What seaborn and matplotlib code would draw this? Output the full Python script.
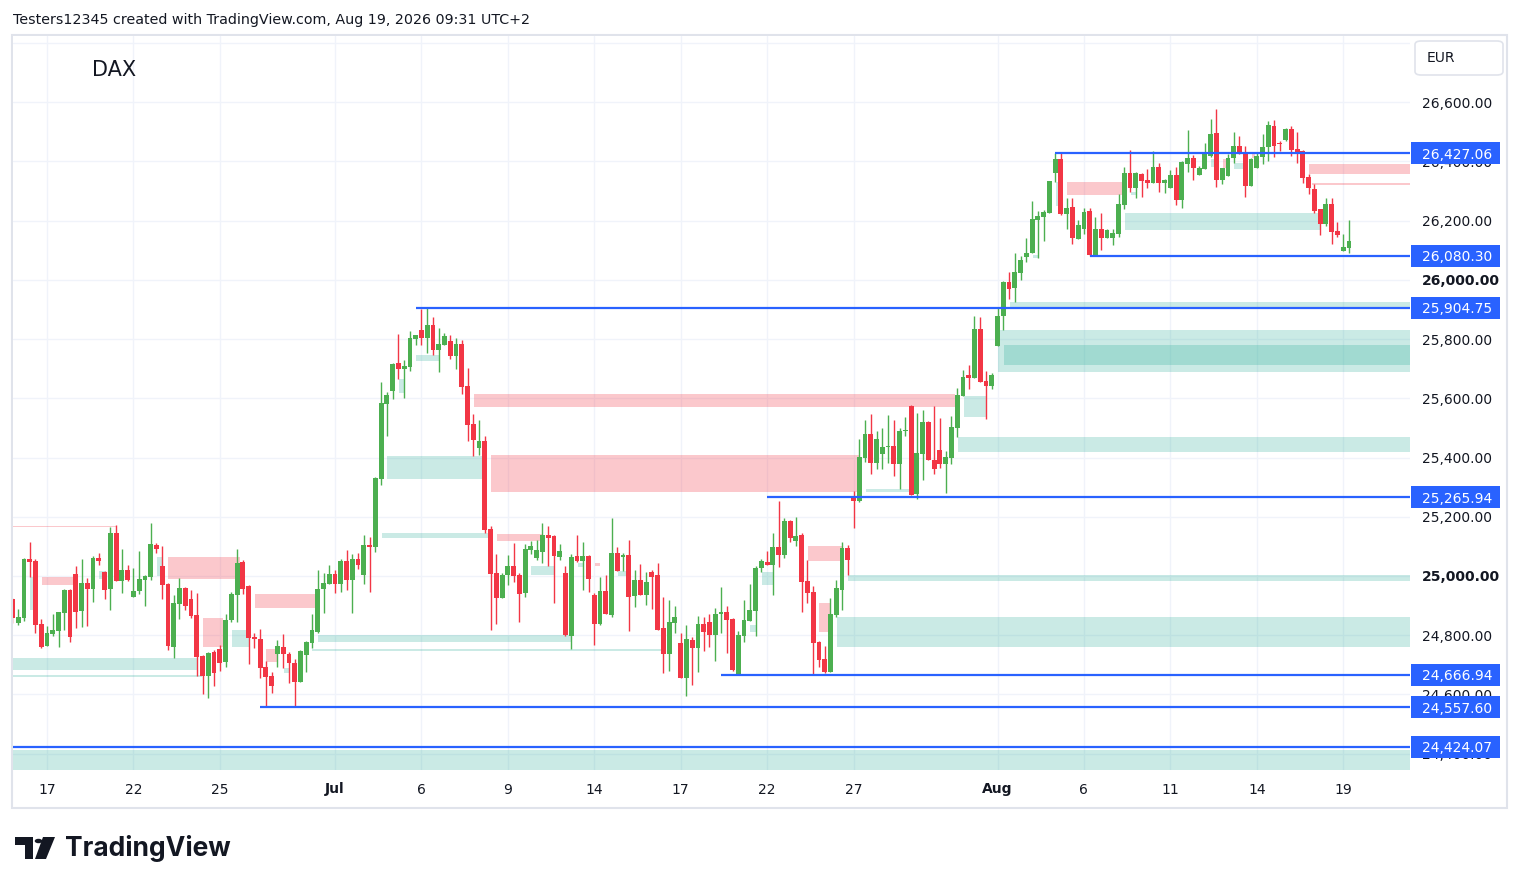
import matplotlib
matplotlib.use('Agg')
import matplotlib.pyplot as plt
import matplotlib.transforms as mtransforms
from matplotlib.patches import Rectangle, FancyBboxPatch, Polygon, Circle
import numpy as np
import pandas as pd
import seaborn as sns

# ---------------- data (2h candles, index = bar number, bar 0 = Jun 17 open) ----------------
first_bar = -6
opens = [24922, 24842, 24859, 25057, 25051, 24838, 24765, 24804, 24815, 24876, 24953, 25007, 24883, 24976, 24956,
         25061, 25014, 24956, 25145, 24984, 25020, 24930, 24949, 24988, 24998, 25105, 25034, 24973, 24761, 24907,
         24960, 24922, 24868, 24731, 24664, 24743, 24754, 24711, 24851, 24937, 25047, 24966, 24793, 24787, 24694,
         24662, 24736, 24760, 24737, 24706, 24643, 24732, 24775, 24812, 24955, 24974, 25007, 24974, 25051, 24988,
         25057, 25004, 25105, 25099, 25327, 25582, 25626, 25719, 25700, 25707, 25801, 25830, 25804, 25847, 25764,
         25781, 25793, 25744, 25783, 25641, 25513, 25433, 25456, 25159, 25010, 24927, 25003, 25034, 25003, 24944,
         25089, 25062, 25081, 25138, 25135, 25065, 25010, 24799, 25068, 25052, 25068, 24936, 24839, 24949, 24869,
         25078, 25065, 25071, 24934, 24986, 24937, 25013, 25003, 24824, 24738, 24842, 24774, 24657, 24784, 24758,
         24838, 24845, 24802, 24871, 24877, 24855, 24670, 24799, 24849, 24883, 25027, 25047, 25038, 25098, 25072,
         25186, 25119, 25138, 24983, 24946, 24777, 24721, 24677, 24869, 24954, 25094, 25264, 25254, 25399, 25479,
         25383, 25413, 25434, 25439, 25379, 25490, 25574, 25278, 25413, 25520, 25393, 25425, 25379, 25399, 25501,
         25609, 25678, 25670, 25834, 25658, 25642, 25777, 25879, 25992, 25973, 26024, 26078, 26091, 26203, 26213,
         26226, 26361, 26408, 26223, 26246, 26139, 26172, 26232, 26085, 26171, 26142, 26142, 26156, 26253, 26360,
         26311, 26357, 26337, 26328, 26381, 26328, 26311, 26354, 26270, 26392, 26411, 26355, 26375, 26419, 26495,
         26338, 26351, 26412, 26451, 26428, 26317, 26378, 26415, 26447, 26519, 26460, 26472, 26509, 26441, 26435,
         26347, 26306, 26239, 26189, 26256, 26164, 26098, 26108]
highs = [24925, 24889, 25060, 25115, 25057, 24855, 24830, 24872, 24880, 24955, 24955, 25034, 25057, 24993, 25068,
         25078, 25017, 25165, 25172, 25091, 25037, 25027, 25084, 25003, 25179, 25111, 25101, 24975, 24936, 24993,
         24964, 24953, 24943, 24733, 24742, 24750, 24767, 24872, 24946, 25091, 25054, 24968, 24806, 24821, 24714,
         24676, 24784, 24804, 24745, 24720, 24750, 24779, 24872, 25020, 25011, 25037, 25020, 25058, 25088, 25074,
         25076, 25138, 25132, 25333, 25655, 25621, 25718, 25818, 25729, 25827, 25815, 25901, 25905, 25874, 25837,
         25820, 25813, 25803, 25797, 25702, 25547, 25527, 25473, 25169, 25074, 25010, 25071, 25111, 25009, 25108,
         25118, 25121, 25179, 25169, 25138, 25108, 25034, 25074, 25138, 25115, 25070, 24943, 24998, 25003, 25196,
         25098, 25078, 25121, 25020, 25041, 25013, 25020, 25044, 24929, 24919, 24899, 24808, 24835, 24794, 24865,
         24862, 24872, 24892, 24964, 24899, 24857, 24814, 24919, 24973, 25034, 25058, 25084, 25146, 25253, 25196,
         25189, 25199, 25145, 25055, 24966, 24779, 24765, 24926, 24986, 25115, 25106, 25287, 25462, 25527, 25547,
         25489, 25500, 25543, 25527, 25500, 25537, 25576, 25550, 25560, 25523, 25574, 25533, 25422, 25540, 25636,
         25695, 25712, 25878, 25874, 25692, 25685, 25905, 25995, 26026, 26090, 26080, 26141, 26266, 26232, 26235,
         26335, 26427, 26427, 26276, 26276, 26202, 26242, 26242, 26212, 26225, 26170, 26171, 26289, 26381, 26438,
         26364, 26359, 26374, 26435, 26394, 26340, 26370, 26381, 26401, 26505, 26421, 26384, 26462, 26543, 26576,
         26379, 26424, 26499, 26485, 26451, 26411, 26428, 26492, 26536, 26539, 26468, 26512, 26519, 26499, 26438,
         26357, 26323, 26240, 26276, 26276, 26196, 26154, 26202]
lows = [24840, 24835, 24849, 24998, 24809, 24758, 24762, 24799, 24761, 24818, 24778, 24823, 24829, 24832, 24913,
        25037, 24922, 24886, 24982, 24944, 24983, 24928, 24940, 24897, 24987, 25077, 24922, 24751, 24724, 24856,
        24885, 24859, 24664, 24603, 24589, 24630, 24680, 24694, 24846, 24846, 24940, 24704, 24756, 24657, 24558,
        24606, 24692, 24690, 24638, 24560, 24641, 24677, 24758, 24806, 24874, 24972, 24944, 24947, 24954, 24874,
        25025, 24974, 24947, 25082, 25307, 25474, 25597, 25666, 25602, 25693, 25781, 25781, 25754, 25746, 25690,
        25779, 25734, 25700, 25615, 25457, 25406, 25410, 25144, 24818, 24839, 24925, 24970, 24981, 24846, 24930,
        25074, 25054, 25045, 25035, 24910, 25054, 24799, 24755, 25048, 24953, 24947, 24768, 24836, 24871, 24863,
        25016, 25017, 24815, 24896, 24935, 24903, 24890, 24817, 24674, 24680, 24809, 24655, 24594, 24633, 24677,
        24748, 24761, 24714, 24806, 24741, 24680, 24667, 24778, 24847, 24799, 25015, 25036, 24937, 25031, 25062,
        25116, 25102, 24880, 24910, 24670, 24694, 24674, 24675, 24863, 24886, 25004, 25163, 25250, 25386, 25345,
        25362, 25362, 25383, 25339, 25294, 25474, 25272, 25261, 25325, 25391, 25345, 25366, 25281, 25379, 25470,
        25607, 25632, 25668, 25654, 25531, 25632, 25775, 25830, 25936, 25926, 26000, 26061, 26089, 26075, 26132,
        26224, 26331, 26220, 26172, 26122, 26137, 26156, 26080, 26082, 26102, 26140, 26118, 26145, 26240, 26297,
        26277, 26280, 26311, 26326, 26297, 26294, 26309, 26253, 26243, 26365, 26338, 26353, 26373, 26415, 26314,
        26324, 26349, 26395, 26423, 26280, 26315, 26376, 26392, 26402, 26413, 26435, 26470, 26419, 26393, 26328,
        26290, 26226, 26152, 26183, 26122, 26145, 26096, 26091]
closes = [24859, 24860, 25057, 25048, 24835, 24761, 24808, 24818, 24878, 24953, 24795, 24880, 24976, 24956, 25061,
          25052, 24953, 25145, 24984, 25020, 24987, 24949, 24990, 25000, 25108, 25091, 24971, 24765, 24909, 24960,
          24897, 24866, 24728, 24664, 24740, 24674, 24707, 24851, 24939, 25044, 24957, 24792, 24786, 24688, 24660,
          24630, 24764, 24736, 24705, 24643, 24747, 24777, 24818, 24956, 24976, 25007, 24974, 25052, 24988, 25057,
          25038, 25105, 25099, 25331, 25584, 25611, 25716, 25700, 25709, 25803, 25813, 25804, 25847, 25764, 25783,
          25810, 25744, 25783, 25639, 25511, 25460, 25456, 25156, 25008, 24927, 25003, 25034, 25001, 24940, 25091,
          25101, 25088, 25138, 25129, 25069, 25084, 24801, 25064, 25051, 25068, 24990, 24839, 24949, 24873, 25078,
          25018, 25071, 24930, 24986, 24937, 24980, 24998, 24819, 24738, 24845, 24862, 24657, 24787, 24758, 24838,
          24812, 24802, 24872, 24877, 24853, 24684, 24801, 24851, 24885, 25027, 25049, 25038, 25098, 25072, 25186,
          25129, 25135, 24981, 24944, 24775, 24717, 24677, 24872, 24959, 25094, 25055, 25254, 25402, 25479, 25383,
          25462, 25435, 25439, 25379, 25489, 25493, 25274, 25415, 25520, 25393, 25362, 25379, 25402, 25503, 25611,
          25672, 25670, 25834, 25656, 25642, 25678, 25878, 25992, 25970, 26026, 26067, 26090, 26205, 26215, 26229,
          26333, 26408, 26223, 26242, 26142, 26185, 26229, 26085, 26171, 26142, 26168, 26158, 26256, 26360, 26311,
          26360, 26334, 26328, 26381, 26328, 26337, 26354, 26270, 26397, 26411, 26378, 26377, 26424, 26492, 26338,
          26377, 26411, 26451, 26426, 26317, 26408, 26418, 26448, 26522, 26453, 26458, 26509, 26439, 26432, 26345,
          26311, 26233, 26189, 26256, 26162, 26151, 26110, 26131]

date_tick_bars = [0, 15, 30, 50, 65, 80, 95, 110, 125, 140, 165, 180, 195, 210, 225]
date_tick_labels = ['17', '22', '25', 'Jul', '6', '9', '14', '17', '22', '27', 'Aug', '6', '11', '14', '19']
month_labels = ['Jul', 'Aug']
price_ticks = [24400, 24600, 24800, 25000, 25200, 25400, 25600, 25800, 26000, 26200, 26400, 26600, 26800]
bold_price_ticks = [25000, 26000]
hidden_price_labels = [26800]

# horizontal key levels and the bar where each line starts
levels = [26427.06, 26080.30, 25904.75, 25265.94, 24666.94, 24557.60, 24424.07]
level_start_bars = [175, 181, 64, 125, 117, 37, -6]

# zones: (start bar, end bar, low price, high price); end None = extends to right edge
supply_zones = [(-5.9, 12.2, 25164, 25170), (-0.9, 5.2, 24970, 24998), (21.0, 33.5, 24990, 25065),
                (27.1, 30.6, 24761, 24859), (36.1, 46.7, 24893, 24939), (38.0, 40.1, 24710, 24753),
                (74.1, 157.6, 25571, 25614), (77.1, 141.1, 25284, 25408), (78.1, 86.1, 25118, 25142),
                (132.1, 138.2, 25051, 25101), (134.0, 136.1, 24811, 24908), (95.1, 96.0, 25035, 25045),
                (177.1, 186.8, 26286, 26331), (219.1, None, 26357, 26390), (219.6, None, 26320, 26326),
                (204.2, 204.9, 26376, 26407), (209.1, 209.7, 26411, 26428)]
demand_zones = [(-5.9, 26.0, 24683, 24722), (-5.9, 26.9, 24660, 24665), (-3.0, -2.3, 24885, 24996),
                (19.1, 20.0, 25000, 25064), (9.0, 10.1, 24990, 25017), (32.1, 35.1, 24761, 24818),
                (41.1, 42.0, 24673, 24690), (47.0, 91.1, 24778, 24801), (46.0, 106.8, 24747, 24754),
                (58.2, 76.6, 25129, 25144), (59.0, 75.7, 25327, 25405), (61.1, 62.2, 25618, 25666),
                (64.1, 68.1, 25726, 25746), (84.0, 88.0, 25003, 25035), (92.2, 93.1, 25030, 25045),
                (99.1, 100.7, 25000, 25017), (122.0, 123.1, 24811, 24834), (124.1, 126.0, 24970, 25013),
                (139.1, None, 24983, 25003), (137.2, None, 24760, 24862), (142.2, 149.8, 25284, 25294),
                (158.2, None, 25419, 25469), (159.2, 163.2, 25537, 25608), (165.1, None, 25689, 25830),
                (166.1, None, 25712, 25780), (167.2, None, 25905, 25925), (171.2, 172.0, 26073, 26083),
                (175.2, 175.7, 26249, 26330), (187.2, 221.0, 26169, 26225), (188.2, 189.2, 26286, 26296),
                (202.1, 203.1, 26382, 26407), (206.1, 207.8, 26374, 26394), (-5.9, None, 24345, 24413)]

header_text = 'Testers12345 created with TradingView.com, Aug 19, 2026 09:31 UTC+2'
symbol_text = 'DAX'
currency_text = 'EUR'

# ---------------- styling ----------------
sns.set_theme(style='white')
plt.rcParams['font.family'] = ['DejaVu Sans']

W, H = 1520, 889
UP = '#4CAF50'
DOWN = '#F23645'
BLUE = '#2962FF'
TXT = '#131722'
GRID = '#f0f3fa'


def fx(x):
    return x / W


def fy(y):
    return 1 - y / H


df = pd.DataFrame({'open': opens, 'high': highs, 'low': lows, 'close': closes})
df['bar'] = np.arange(first_bar, first_bar + len(df))
df['up'] = df['close'] >= df['open']

fig = plt.figure(figsize=(W / 100, H / 100), dpi=100)
fig.patch.set_facecolor('white')
ax = fig.add_axes([fx(13), fy(770), fx(1410) - fx(13), fy(36) - fy(770)])
ax.set_facecolor('white')

x_left, x_right = -5.9, 236.6
y_low, y_high = 24345, 26823
ax.set_xlim(x_left, x_right)
ax.set_ylim(y_low, y_high)

# zones
for (k0, k1, lo, hi) in supply_zones:
    k1 = x_right if k1 is None else k1
    ax.add_patch(Rectangle((k0, lo), k1 - k0, hi - lo, fc=DOWN, ec='none', alpha=0.27, zorder=1))
for (k0, k1, lo, hi) in demand_zones:
    k1 = x_right if k1 is None else k1
    ax.add_patch(Rectangle((k0, lo), k1 - k0, hi - lo, fc='#22AB94', ec='none', alpha=0.24, zorder=1))

# candles
for is_up, color in [(True, UP), (False, DOWN)]:
    d = df[df['up'] == is_up]
    ax.vlines(d['bar'], d['low'], d['high'], color=color, lw=1.0, zorder=3)
    body_lo = np.minimum(d['open'], d['close'])
    body_h = np.maximum(np.abs(d['close'] - d['open']), 3.5)
    ax.bar(d['bar'], body_h, bottom=body_lo, width=0.84, color=color, edgecolor='none', zorder=3.5)

# key levels
for lvl, k0 in zip(levels, level_start_bars):
    ax.hlines(lvl, max(k0, x_left), x_right, color=BLUE, lw=1.6, zorder=4)

# axes styling
for s in ax.spines.values():
    s.set_visible(False)
ax.set_xticks(date_tick_bars)
ax.set_xticklabels(date_tick_labels)
ax.set_yticks(price_ticks)
ax.set_yticklabels(['' if p in hidden_price_labels else '{:,.2f}'.format(p) for p in price_ticks])
ax.yaxis.tick_right()
ax.tick_params(axis='y', length=0, pad=8.5, labelsize=10, labelcolor=TXT)
ax.tick_params(axis='x', length=0, pad=9, labelsize=10, labelcolor=TXT)
for lab, p in zip(ax.get_yticklabels(), price_ticks):
    if p in bold_price_ticks:
        lab.set_fontweight('bold')
for lab in ax.get_xticklabels():
    if lab.get_text() in month_labels:
        lab.set_fontweight('bold')
ax.grid(True, color=GRID, lw=1.0)
ax.set_axisbelow(True)

# level price tags on the price scale
blend = mtransforms.blended_transform_factory(ax.transAxes, ax.transData)
ax_w = 1410 - 13
px_per_pt = (770 - 36) / (y_high - y_low)
tag_h = 22 / px_per_pt
for lvl in levels:
    ax.add_patch(Rectangle(((1411 - 13) / ax_w, lvl - tag_h / 2), (1500 - 1411) / ax_w, tag_h,
                           transform=blend, fc=BLUE, ec='none', clip_on=False, zorder=6))
    ax.text((1422 - 13) / ax_w, lvl, '{:,.2f}'.format(lvl), transform=blend, ha='left', va='center_baseline',
            fontsize=10, color='white', zorder=7, clip_on=False)

# frame
fig.add_artist(Rectangle((fx(12), fy(808)), fx(1507) - fx(12), fy(35) - fy(808), transform=fig.transFigure,
                         fc='none', ec='#e0e3eb', lw=1.5, zorder=0))

# header and symbol
fig.text(fx(13), fy(20), header_text, ha='left', va='center', fontsize=10.3, color=TXT)
fig.text(fx(92), fy(70), symbol_text, ha='left', va='center', fontsize=15, color=TXT)

# currency box
fig.add_artist(FancyBboxPatch((fx(1415), fy(75)), fx(1503) - fx(1415), fy(41) - fy(75),
                              boxstyle='round,pad=0,rounding_size=0.004', transform=fig.transFigure,
                              fc='white', ec='#e0e3eb', lw=1.2, zorder=5))
fig.text(fx(1427), fy(58), currency_text, ha='left', va='center', fontsize=10, color=TXT, zorder=6)

# TradingView logo
logo_c = '#131722'
fig.add_artist(Polygon([(fx(15), fy(837)), (fx(33), fy(837)), (fx(33), fy(859)), (fx(25), fy(859)),
                        (fx(25), fy(845)), (fx(15), fy(845))], closed=True, transform=fig.transFigure,
                       fc=logo_c, ec='none'))
fig.add_artist(Circle((fx(38.5), fy(841)), 3.8 / W, transform=fig.transFigure, fc=logo_c, ec='none'))
fig.add_artist(Polygon([(fx(43), fy(837)), (fx(55), fy(837)), (fx(46), fy(859)), (fx(35), fy(859))],
                       closed=True, transform=fig.transFigure, fc=logo_c, ec='none'))
fig.text(fx(65), fy(849), 'TradingView', ha='left', va='center', fontsize=19, fontweight='bold',
         color=logo_c, family=['Inter', 'DejaVu Sans'])

fig.savefig('out.png', dpi=100, facecolor='white')
